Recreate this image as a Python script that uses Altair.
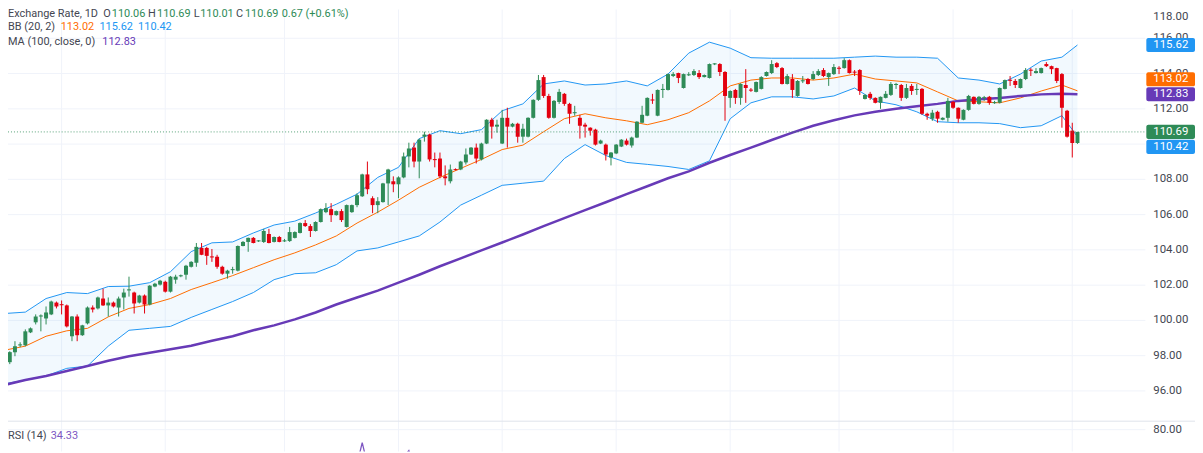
import altair as alt
import pandas as pd

# ---------------- data ----------------
opens = [
    97.52, 97.63, 98.20, 98.58, 98.59, 99.32, 99.89, 100.22, 100.11, 100.34,
    101.01, 100.92, 100.85, 99.10, 100.22, 99.16, 99.83, 100.73, 100.68, 101.24,
    100.85, 101.01, 100.73, 101.30, 101.70, 101.58, 101.01, 101.41, 100.90, 101.92,
    102.03, 102.19, 101.63, 102.31, 102.50, 102.59, 103.04, 103.27, 104.11, 104.11,
    103.63, 103.61, 103.04, 102.65, 102.85, 102.82, 104.22, 104.45, 104.68, 104.48,
    104.45, 104.90, 104.45, 104.73, 104.48, 104.50, 104.68, 104.96, 105.52, 105.35,
    105.07, 105.58, 106.14, 106.31, 105.97, 106.20, 105.30, 106.14, 106.54, 107.04,
    108.28, 106.93, 106.54, 106.71, 107.77, 107.89, 107.72, 108.11, 109.30, 109.80,
    109.01, 110.42, 110.54, 109.15, 109.18, 108.17, 107.89, 108.58, 108.56, 108.96,
    109.41, 109.80, 109.13, 110.03, 111.38, 110.99, 110.03, 111.49, 110.99, 111.15,
    110.42, 110.42, 111.49, 112.51, 113.80, 112.73, 111.49, 112.39, 112.85, 112.28,
    111.75, 111.49, 111.10, 110.93, 110.82, 110.03, 109.97, 109.24, 109.47, 109.86,
    110.20, 109.92, 110.37, 111.21, 111.61, 112.53, 111.61, 113.07, 113.07, 113.86,
    114.03, 113.18, 113.90, 113.92, 114.03, 113.80, 113.75, 114.52, 114.54, 114.09,
    112.62, 113.07, 112.62, 113.35, 113.09, 112.96, 113.13, 113.86, 114.03, 114.59,
    114.31, 113.41, 113.69, 112.73, 113.56, 113.69, 113.69, 113.92, 114.20, 113.80,
    113.97, 114.33, 114.31, 114.76, 114.11, 114.20, 112.56, 112.85, 112.62, 112.34,
    112.62, 112.79, 113.35, 113.35, 112.62, 113.30, 113.07, 113.13, 111.72, 111.44,
    111.83, 111.38, 111.49, 112.39, 112.06, 111.38, 111.94, 112.68, 112.28, 112.60,
    112.68, 112.32, 112.34, 113.13, 113.65, 113.58, 113.18, 113.69, 114.22, 114.03,
    114.03, 114.54, 114.42, 114.31, 113.97, 111.89, 110.76, 110.06,
]
highs = [
    98.08, 98.25, 98.82, 98.76, 99.49, 99.60, 100.34, 100.34, 100.79, 101.12,
    101.07, 101.13, 100.90, 100.25, 100.34, 99.75, 100.79, 100.85, 101.35, 101.80,
    101.30, 101.07, 101.35, 101.80, 102.48, 101.63, 101.45, 101.47, 102.00, 102.13,
    102.30, 102.25, 102.52, 102.59, 102.60, 103.15, 103.36, 104.39, 104.39, 104.17,
    104.05, 103.72, 103.10, 102.87, 103.04, 104.25, 104.50, 104.70, 104.73, 104.55,
    105.19, 105.19, 104.76, 104.79, 104.62, 105.30, 105.05, 105.56, 105.69, 105.46,
    105.62, 106.35, 106.65, 106.65, 106.23, 106.31, 106.57, 106.57, 107.21, 108.32,
    109.01, 107.04, 106.99, 107.80, 108.60, 108.17, 108.17, 109.52, 110.08, 110.08,
    110.31, 110.70, 110.59, 109.52, 109.52, 108.79, 108.84, 108.62, 109.05, 109.75,
    109.83, 110.03, 110.08, 111.41, 111.49, 111.38, 111.94, 112.06, 111.20, 111.21,
    111.15, 111.52, 112.54, 113.92, 113.92, 112.85, 112.50, 113.13, 112.90, 112.34,
    112.17, 111.66, 111.21, 110.95, 110.87, 110.25, 110.03, 109.55, 110.00, 110.28,
    110.31, 110.42, 111.30, 112.17, 112.65, 112.85, 113.10, 113.41, 114.00, 114.08,
    114.05, 114.00, 114.08, 114.25, 114.20, 113.95, 114.57, 114.59, 114.59, 114.14,
    113.05, 113.13, 113.45, 114.25, 113.18, 113.55, 113.85, 114.12, 114.76, 114.65,
    114.37, 113.97, 113.97, 113.63, 113.86, 113.75, 114.14, 114.25, 114.31, 114.06,
    114.54, 114.42, 114.87, 114.80, 114.20, 114.25, 112.82, 112.96, 112.65, 112.70,
    113.01, 113.52, 113.47, 113.41, 113.41, 113.41, 113.41, 113.18, 111.78, 111.94,
    111.89, 111.52, 112.62, 112.45, 112.08, 111.97, 112.79, 112.70, 112.73, 112.73,
    112.73, 112.45, 113.21, 113.66, 113.86, 113.69, 113.72, 114.31, 114.31, 114.31,
    114.34, 114.65, 114.45, 114.33, 114.03, 111.94, 111.21, 110.69,
]
lows = [
    97.35, 97.52, 97.97, 98.48, 98.53, 99.28, 99.77, 99.38, 99.77, 100.30,
    100.68, 100.34, 99.60, 98.82, 98.82, 99.12, 99.77, 100.45, 100.62, 100.82,
    100.22, 100.73, 100.22, 100.62, 101.35, 100.39, 100.96, 100.39, 100.85, 101.88,
    101.98, 101.58, 101.58, 102.08, 102.45, 102.31, 103.00, 103.04, 103.70, 103.15,
    103.32, 102.93, 102.59, 102.37, 102.65, 102.78, 104.20, 103.89, 104.37, 104.45,
    104.39, 104.37, 104.42, 104.43, 104.45, 104.45, 104.65, 104.93, 105.30, 104.73,
    105.04, 105.55, 106.08, 105.58, 105.94, 105.58, 105.27, 106.10, 106.42, 107.00,
    107.16, 106.08, 106.08, 106.68, 106.54, 107.27, 106.93, 108.06, 108.68, 108.68,
    108.06, 110.14, 109.01, 108.68, 108.06, 107.66, 107.77, 108.51, 108.52, 108.84,
    109.38, 108.90, 109.07, 110.00, 110.31, 110.65, 110.00, 109.80, 110.95, 110.08,
    110.08, 110.38, 111.45, 112.45, 112.62, 111.44, 111.45, 112.28, 112.17, 111.15,
    111.61, 110.31, 110.37, 110.48, 109.92, 110.00, 109.07, 108.79, 109.43, 109.83,
    109.92, 109.80, 110.34, 111.18, 111.58, 112.28, 111.58, 112.62, 113.04, 113.80,
    113.46, 113.15, 113.86, 113.86, 113.69, 113.78, 113.72, 114.48, 113.86, 111.32,
    112.06, 112.28, 112.23, 112.34, 112.96, 112.93, 113.10, 113.83, 113.97, 114.31,
    113.38, 113.38, 112.62, 112.68, 113.46, 113.38, 113.63, 113.86, 113.80, 113.30,
    113.92, 113.97, 114.28, 114.00, 113.86, 112.79, 112.53, 112.51, 112.31, 112.00,
    112.59, 112.73, 113.13, 112.45, 112.56, 112.79, 112.79, 111.66, 111.38, 111.32,
    111.21, 111.35, 111.27, 112.00, 111.21, 111.35, 111.89, 112.25, 112.23, 112.45,
    112.23, 112.28, 112.31, 113.10, 113.30, 113.18, 113.15, 113.63, 113.86, 114.00,
    114.00, 114.37, 113.97, 113.46, 110.93, 110.37, 109.24, 110.01,
]
closes = [
    97.92, 98.20, 98.53, 98.64, 99.38, 99.55, 100.22, 100.28, 100.45, 101.07,
    100.79, 100.86, 99.66, 100.22, 99.16, 99.72, 100.73, 100.62, 101.30, 100.85,
    101.01, 100.79, 101.24, 101.58, 101.76, 100.96, 101.41, 100.90, 101.97, 102.08,
    102.25, 101.63, 102.48, 102.48, 102.56, 103.10, 103.32, 104.17, 103.72, 103.66,
    103.57, 103.04, 102.65, 102.82, 102.91, 104.22, 104.45, 104.68, 104.39, 104.54,
    105.07, 104.39, 104.73, 104.45, 104.54, 105.01, 105.01, 105.52, 105.35, 105.07,
    105.58, 106.31, 106.37, 105.97, 106.20, 105.69, 106.54, 106.54, 107.10, 108.28,
    107.44, 106.54, 106.76, 107.77, 108.56, 107.72, 108.11, 109.30, 109.75, 109.01,
    110.25, 110.54, 109.13, 109.09, 108.17, 108.06, 108.56, 108.52, 109.01, 109.41,
    109.80, 109.18, 110.03, 111.38, 110.99, 111.10, 111.49, 110.99, 111.15, 110.42,
    110.87, 111.49, 112.51, 113.63, 112.73, 111.49, 112.45, 112.96, 112.28, 111.72,
    111.81, 111.04, 110.99, 110.76, 109.97, 110.20, 109.41, 109.52, 109.97, 110.25,
    109.97, 110.37, 111.27, 111.66, 112.62, 112.47, 113.07, 113.13, 113.97, 113.97,
    113.75, 113.97, 113.96, 114.14, 113.80, 113.92, 114.54, 114.58, 114.09, 112.73,
    113.01, 112.62, 113.41, 113.18, 113.03, 113.52, 113.80, 114.09, 114.54, 114.37,
    113.41, 113.86, 113.07, 113.58, 113.62, 113.41, 113.97, 114.14, 113.86, 114.03,
    114.37, 114.27, 114.76, 114.03, 114.05, 113.01, 112.79, 112.62, 112.34, 112.68,
    112.85, 113.41, 113.41, 112.62, 113.18, 113.01, 113.13, 111.72, 111.61, 111.78,
    111.44, 111.49, 112.45, 112.06, 111.44, 111.94, 112.73, 112.28, 112.68, 112.66,
    112.34, 112.38, 113.18, 113.63, 113.59, 113.35, 113.69, 114.20, 114.16, 114.14,
    114.31, 114.42, 114.25, 113.58, 112.06, 110.42, 110.06, 110.69,
]

# Bollinger Bands (20, 2) and MA(100), read at every 4th bar
band_idx = list(range(0, 205, 4)) + [207]
bb_upper = [
    100.39, 100.47, 101.24, 101.58, 101.52, 101.92, 101.94, 102.14, 102.76, 103.90,
    104.40, 104.45, 104.96, 105.41, 105.63, 106.09, 106.59, 107.16, 108.11, 108.68,
    110.31, 110.76, 110.59, 110.82, 111.89, 112.28, 113.41, 113.58, 113.35, 113.41,
    113.58, 113.30, 113.97, 115.16, 115.78, 115.44, 114.90, 114.87, 114.87, 114.87,
    114.87, 114.93, 114.99, 114.93, 114.93, 114.87, 113.75, 113.63, 113.41, 113.97,
    114.71, 114.93, 115.62,
]
bb_mid = [
    98.31, 98.54, 99.10, 99.41, 99.55, 100.20, 100.68, 100.90, 101.24, 101.75,
    102.14, 102.54, 102.99, 103.44, 103.83, 104.28, 104.79, 105.52, 106.14, 106.82,
    107.55, 108.11, 108.62, 109.13, 109.69, 109.94, 110.70, 111.44, 111.72, 111.49,
    111.32, 111.10, 111.38, 111.78, 112.45, 113.30, 113.63, 113.75, 113.75, 113.63,
    113.75, 113.97, 113.69, 113.58, 113.47, 112.96, 112.45, 112.40, 112.34, 112.62,
    113.01, 113.35, 113.02,
]
bb_lower = [
    96.40, 96.62, 96.85, 97.28, 97.41, 98.54, 99.44, 99.55, 99.66, 100.17,
    100.62, 101.07, 101.58, 102.31, 102.65, 102.70, 103.16, 103.94, 104.11, 104.45,
    104.79, 105.58, 106.54, 107.10, 107.66, 107.78, 107.90, 109.18, 109.97, 109.35,
    108.96, 108.85, 108.73, 108.56, 109.05, 111.44, 112.34, 112.68, 112.68, 112.56,
    112.73, 113.18, 112.45, 112.23, 111.83, 111.27, 111.21, 111.21, 111.16, 110.93,
    111.04, 111.61, 110.42,
]
ma100 = [
    96.34, 96.62, 96.85, 97.13, 97.41, 97.71, 97.97, 98.16, 98.36, 98.56,
    98.85, 99.10, 99.44, 99.72, 100.06, 100.45, 100.90, 101.30, 101.69, 102.14,
    102.59, 103.07, 103.52, 103.97, 104.42, 104.87, 105.35, 105.80, 106.25, 106.70,
    107.16, 107.61, 108.06, 108.45, 108.94, 109.38, 109.80, 110.23, 110.65, 111.04,
    111.35, 111.63, 111.83, 112.00, 112.14, 112.28, 112.45, 112.54, 112.62, 112.73,
    112.82, 112.86, 112.83,
]

# RSI(14): only the short stretch that peaks into the visible strip
rsi_idx = list(range(62, 83))
rsi_vals = [62, 60, 61, 58, 63, 64, 66, 74.8, 66, 57, 58, 63, 66, 64, 65, 69, 71.6, 65, 69, 70, 62]

price_ticks = [96, 98, 100, 102, 104, 106, 108, 110, 112, 114, 116, 118]
label_ticks = [96, 98, 100, 102, 104, 106, 108, 112, 114, 116]   # 110 is hidden under the tags
top_tick = 118                                                   # clipped at the top edge
month_ticks = [11, 31, 54, 76, 96, 118, 140, 161, 183, 206]     # first bar of each month

last_close = 110.69
bb_last = [113.02, 115.62, 110.42]
ma_last = 112.83
rsi_last = 34.33
rsi_level = 80

# ---------------- styling ----------------
GREEN = "#2e8b57"
RED = "#e3000f"
BLUE = "#2196f3"
ORANGE = "#ff6d00"
PURPLE = "#673ab7"
RSI_PURPLE = "#7e57c2"
GRID = "#f0f3fa"
TXT = "#434651"
FONT = "Roboto"
LFS = 11      # legend font size
AFS = 11.5    # axis font size

W, H = 1195, 445
XS = alt.Scale(domain=[1.615, 228.72], range=[0, W], nice=False, zero=False)
YS = alt.Scale(domain=[94.31, 117.634], range=[414, 0], nice=False, zero=False)
RS = alt.Scale(domain=[71.2, 83.6], range=[445, 414], nice=False, zero=False)

candles = pd.DataFrame({"i": list(range(len(opens))), "o": opens, "h": highs, "l": lows, "c": closes})
bands = pd.DataFrame({"i": band_idx, "up": bb_upper, "mid": bb_mid, "lo": bb_lower, "ma": ma100})
rsi = pd.DataFrame({"i": rsi_idx, "r": rsi_vals})
grid_df = pd.DataFrame({"p": price_ticks})
ticks = pd.DataFrame({"p": label_ticks, "t": [f"{v:.2f}" for v in label_ticks]})
months = pd.DataFrame({"i": month_ticks})
one = pd.DataFrame({"k": [0]})


def X(f):
    return alt.X(f, scale=XS, axis=None)


def Y(f):
    return alt.Y(f, scale=YS, axis=None)


layers = []

# grids
layers.append(alt.Chart(months).mark_rule(color=GRID, strokeWidth=1).encode(
    x=X("i:Q"), y=alt.value(0), y2=alt.value(H)))
layers.append(alt.Chart(grid_df).mark_rule(color=GRID, strokeWidth=1).encode(
    y=Y("p:Q"), x=alt.value(0), x2=alt.value(1145)))
layers.append(alt.Chart(pd.DataFrame({"r": [rsi_level]})).mark_rule(color=GRID, strokeWidth=1).encode(
    y=alt.Y("r:Q", scale=RS, axis=None), x=alt.value(0), x2=alt.value(1145)))
# pane separator
layers.append(alt.Chart(one).mark_rule(color="#e0e3eb", strokeWidth=1).encode(
    y=alt.value(414.5), x=alt.value(0), x2=alt.value(W)))

# Bollinger fill and lines, MA
layers.append(alt.Chart(bands).mark_area(color=BLUE, opacity=0.06).encode(
    x=X("i:Q"), y=Y("up:Q"), y2="lo:Q"))
layers.append(alt.Chart(bands).mark_line(color=BLUE, strokeWidth=1).encode(x=X("i:Q"), y=Y("up:Q")))
layers.append(alt.Chart(bands).mark_line(color=BLUE, strokeWidth=1).encode(x=X("i:Q"), y=Y("lo:Q")))
layers.append(alt.Chart(bands).mark_line(color=ORANGE, strokeWidth=1).encode(x=X("i:Q"), y=Y("mid:Q")))
layers.append(alt.Chart(bands).mark_line(color=PURPLE, strokeWidth=2.5).encode(x=X("i:Q"), y=Y("ma:Q")))

# candles
cbase = alt.Chart(candles).transform_calculate(d="datum.c >= datum.o ? 'up' : 'down'")
ccol = alt.Color("d:N", scale=alt.Scale(domain=["up", "down"], range=[GREEN, RED]), legend=None)
layers.append(cbase.mark_rule(strokeWidth=1).encode(x=X("i:Q"), y=Y("l:Q"), y2="h:Q", color=ccol))
layers.append(cbase.mark_bar(size=4).encode(x=X("i:Q"), y=Y("o:Q"), y2="c:Q", color=ccol))

# last price dotted line
layers.append(alt.Chart(pd.DataFrame({"p": [last_close]})).mark_rule(
    color=GREEN, strokeWidth=1, strokeDash=[1, 2], opacity=0.8).encode(
    y=Y("p:Q"), x=alt.value(0), x2=alt.value(1145)))

# RSI line
layers.append(alt.Chart(rsi).mark_line(color=RSI_PURPLE, strokeWidth=1.3, clip=True).encode(
    x=X("i:Q"), y=alt.Y("r:Q", scale=RS, axis=None)))

# right price scale labels
layers.append(alt.Chart(ticks).mark_text(align="left", baseline="middle", font=FONT, fontSize=AFS,
                                         color=TXT).encode(
    x=alt.value(1153), y=Y("p:Q"), text="t:N"))
layers.append(alt.Chart(pd.DataFrame({"r": [rsi_level], "t": [f"{rsi_level:.2f}"]})).mark_text(
    align="left", baseline="middle", font=FONT, fontSize=AFS, color=TXT).encode(
    x=alt.value(1153), y=alt.Y("r:Q", scale=RS, axis=None), text="t:N"))


def label(text, x, y, color, size=LFS):
    return alt.Chart(one).mark_text(align="left", baseline="middle", font=FONT, fontSize=size,
                                    color=color).encode(
        x=alt.value(x), y=alt.value(y), text=alt.value(text))


layers.append(label(f"{top_tick:.2f}", 1153, 7.5, TXT, AFS))


def price_tag(value, color, shift):
    d = pd.DataFrame({"p": [value], "t": [f"{value:.2f}"]})
    b = alt.Chart(d).transform_calculate(lo="datum.p - 0.40", hi="datum.p + 0.40")
    box = b.mark_rect(color=color, yOffset=shift, y2Offset=shift, cornerRadius=2).encode(
        x=alt.value(1146), x2=alt.value(1195), y=Y("lo:Q"), y2="hi:Q")
    txt = b.mark_text(align="left", baseline="middle", dy=shift, color="white", font=FONT,
                      fontSize=AFS).encode(x=alt.value(1153), y=Y("p:Q"), text="t:N")
    return [box, txt]


layers += price_tag(bb_last[1], BLUE, 0)
layers += price_tag(bb_last[0], ORANGE, -11.6)
layers += price_tag(ma_last, PURPLE, 0)
layers += price_tag(last_close, GREEN, 0)
layers += price_tag(bb_last[2], BLUE, 10.3)

# legend
o_, h_, l_, c_ = opens[-1], highs[-1], lows[-1], closes[-1]
layers += [
    label("Exchange Rate, 1D", 0, 4.5, TXT),
    label("O", 96, 4.5, TXT), label(f"{o_:.2f}", 104.5, 4.5, GREEN),
    label("H", 141, 4.5, TXT), label(f"{h_:.2f}", 150, 4.5, GREEN),
    label("L", 187, 4.5, TXT), label(f"{l_:.2f}", 193.5, 4.5, GREEN),
    label("C", 229.5, 4.5, TXT), label(f"{c_:.2f}", 238.5, 4.5, GREEN),
    label("0.67 (+0.61%)", 275.5, 4.5, GREEN),
    label("BB (20, 2)", 0, 17.5, TXT),
    label(f"{bb_last[0]:.2f}", 53, 17.5, ORANGE),
    label(f"{bb_last[1]:.2f}", 92, 17.5, BLUE),
    label(f"{bb_last[2]:.2f}", 131, 17.5, BLUE),
    label("MA (100, close, 0)", 0, 33, TXT),
    label(f"{ma_last:.2f}", 95, 33, PURPLE),
    label("RSI (14)", 0, 429, TXT),
    label(f"{rsi_last:.2f}", 43, 429, RSI_PURPLE),
]

chart = alt.layer(*layers).resolve_scale(y="independent").properties(
    width=W, height=H, autosize=alt.AutoSizeParams(type="none"), padding=0,
    background="white",
).configure_view(stroke=None)

chart.save("out.html", embed_options={"renderer": "svg", "actions": False})
